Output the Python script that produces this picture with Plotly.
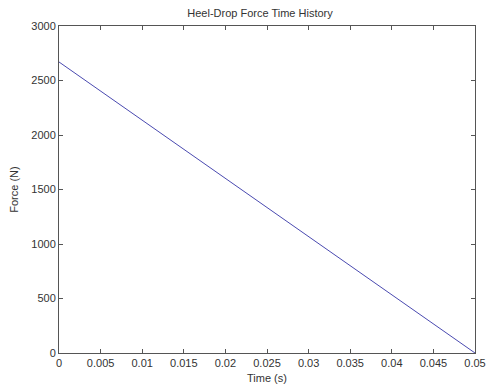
import plotly.graph_objects as go

# Heel-drop force decay over the impact duration
time_s = [0.0, 0.05]
force_n = [2670, 0]

x_ticks = [0, 0.005, 0.01, 0.015, 0.02, 0.025, 0.03, 0.035, 0.04, 0.045, 0.05]
x_tick_text = ["0", "0.005", "0.01", "0.015", "0.02", "0.025", "0.03", "0.035", "0.04", "0.045", "0.05"]
y_ticks = [0, 500, 1000, 1500, 2000, 2500, 3000]

fig = go.Figure()
fig.add_trace(go.Scatter(
    x=time_s, y=force_n, mode="lines",
    line=dict(color="#4a4ab0", width=1),
    showlegend=False,
))

axis_common = dict(
    showline=True, linecolor="#555555", linewidth=1, mirror="allticks",
    ticks="inside", ticklen=4, tickcolor="#555555", tickwidth=1,
    showgrid=False, zeroline=False, automargin=False,
    tickfont=dict(family="Arial, Liberation Sans", size=11, color="#333333"),
)

fig.update_xaxes(
    range=[0, 0.05], tickvals=x_ticks, ticktext=x_tick_text,
    title=dict(text="Time (s)", font=dict(family="Arial, Liberation Sans", size=11, color="#333333"), standoff=6),
    **axis_common,
)
fig.update_yaxes(
    range=[0, 3000], tickvals=y_ticks,
    title=dict(text="Force (N)", font=dict(family="Arial, Liberation Sans", size=11, color="#333333"), standoff=10),
    **axis_common,
)

fig.update_layout(
    width=486, height=390,
    margin=dict(l=59, r=11, t=26, b=37),
    paper_bgcolor="white", plot_bgcolor="white",
    title=dict(text="Heel-Drop Force Time History", x=0.535, xanchor="center", y=0.967, yanchor="middle",
               font=dict(family="Arial, Liberation Sans", size=11, color="#333333")),
)

fig.write_html("out.html")
